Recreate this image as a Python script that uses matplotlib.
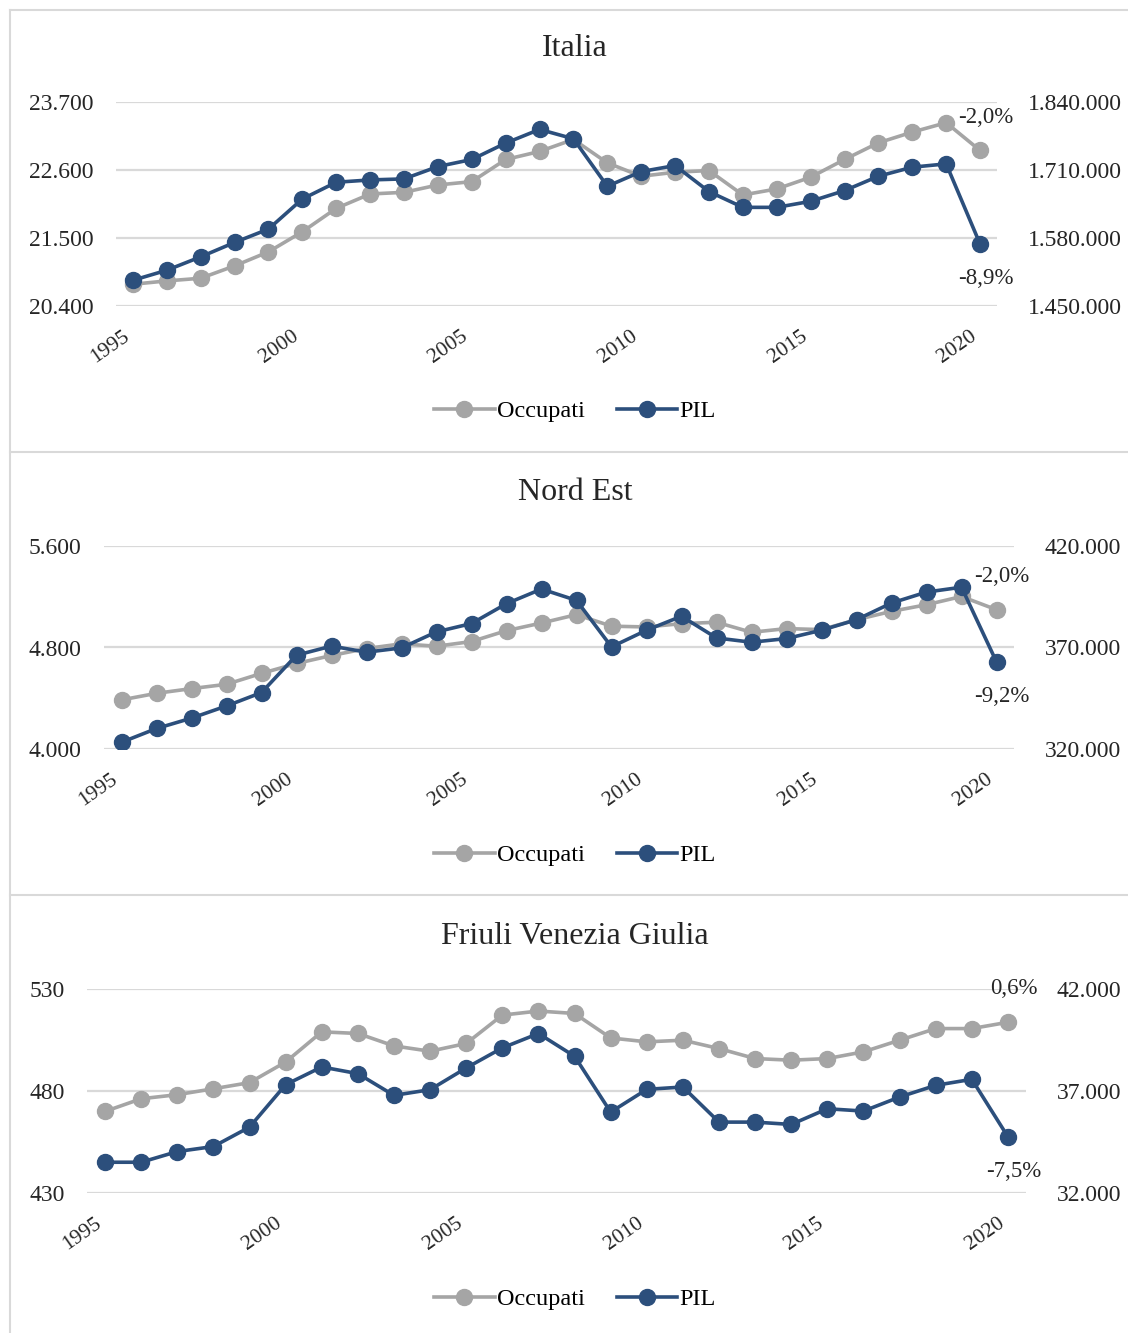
import matplotlib

matplotlib.use("Agg")
import matplotlib.pyplot as plt
from matplotlib.lines import Line2D
from matplotlib.ticker import FixedLocator, FuncFormatter

plt.rcParams["font.family"] = ["Liberation Serif", "DejaVu Serif"]

years = list(range(1995, 2021))

# Italia
italia_occ = [20752, 20806, 20849, 21049, 21276, 21601, 21980, 22212, 22239, 22358,
              22412, 22770, 22900, 23094, 22715, 22499, 22564, 22591, 22196, 22294,
              22483, 22770, 23040, 23213, 23365, 22916]
italia_pil = [1499200, 1518400, 1544000, 1571500, 1597100, 1654600, 1686600, 1691000,
              1693000, 1716600, 1730100, 1761400, 1787600, 1769700, 1678900, 1707000,
              1718500, 1668700, 1638600, 1638600, 1650100, 1670600, 1698100, 1715400,
              1721700, 1568500]

# Nord Est
nordest_occ = [4387, 4439, 4476, 4510, 4596, 4674, 4737, 4792, 4829, 4810,
               4847, 4933, 4993, 5059, 4968, 4962, 4988, 4999, 4920, 4949,
               4941, 5019, 5085, 5137, 5202, 5098]
nordest_pil = [323300, 330100, 335200, 341200, 347800, 366200, 370700, 367700, 369800,
               377700, 381800, 391600, 398800, 393200, 370300, 378500, 385400, 374700,
               372600, 374400, 378500, 383700, 391900, 397300, 399700, 362900]

# Friuli Venezia Giulia
fvg_occ = [470.0, 476.2, 478.2, 481.1, 484.1, 494.2, 509.0, 508.2, 502.1, 499.5,
           503.3, 517.2, 519.2, 518.0, 506.0, 504.1, 504.9, 500.8, 495.9, 495.1,
           495.9, 499.2, 504.9, 510.6, 510.6, 513.7]
fvg_pil = [33508, 33508, 34032, 34278, 35229, 37310, 38179, 37851, 36786, 37065,
           38130, 39113, 39818, 38703, 35966, 37081, 37196, 35475, 35475, 35360,
           36130, 36016, 36704, 37278, 37573, 34755]

panels = [
    ("Italia", italia_occ, italia_pil, [20400, 21500, 22600, 23700],
     [1450000, 1580000, 1710000, 1840000], "-2,0%", "-8,9%"),
    ("Nord Est", nordest_occ, nordest_pil, [4000, 4800, 5600],
     [320000, 370000, 420000], "-2,0%", "-9,2%"),
    ("Friuli Venezia Giulia", fvg_occ, fvg_pil, [430, 480, 530],
     [32000, 37000, 42000], "0,6%", "-7,5%"),
]

GRAY = "#A5A5A5"
BLUE = "#2C4F7C"
GRID = "#D9D9D9"
TXT = "#262626"
W, H = 1128, 1333

# pixel layout: (left, right, top, bottom) of each plot area, title y, legend y
layout = [
    (116, 997, 102, 306, 48, 411),
    (104, 1014, 546, 749, 492, 855),
    (87, 1026, 989, 1193, 936, 1299),
]


def it_fmt(v, _pos=None):
    return f"{v:,.0f}".replace(",", ".")


fig = plt.figure(figsize=(W / 100, H / 100), dpi=100)

# panel borders
for y in [10, 452, 895]:
    fig.add_artist(Line2D([10 / W, 1], [1 - y / H, 1 - y / H], color=GRID, lw=1.5))
fig.add_artist(Line2D([10 / W, 10 / W], [0, 1 - 10 / H], color=GRID, lw=1.5))

for (title, occ, pil, lticks, rticks, lab_occ, lab_pil), (l, r, t, b, ty, ly) in zip(panels, layout):
    ax = fig.add_axes([l / W, 1 - b / H, (r - l) / W, (b - t) / H])
    ax2 = ax.twinx()
    ax.set_xlim(1994.5, 2020.5)
    ax.set_ylim(lticks[0], lticks[-1])
    ax2.set_ylim(rticks[0], rticks[-1])

    ax.yaxis.set_major_locator(FixedLocator(lticks))
    ax2.yaxis.set_major_locator(FixedLocator(rticks))
    ax.yaxis.set_major_formatter(FuncFormatter(it_fmt))
    ax2.yaxis.set_major_formatter(FuncFormatter(it_fmt))
    ax.grid(axis="y", color=GRID, lw=1.6)
    ax.set_axisbelow(True)

    ax.set_xticks(range(1995, 2021, 5))
    ax.set_xticklabels([str(y) for y in range(1995, 2021, 5)], rotation=35,
                       ha="right", va="top", fontsize=15.5, color=TXT)
    ax.tick_params(axis="x", length=0, pad=15)
    ax.tick_params(axis="y", length=0, pad=16, labelsize=17, labelcolor=TXT)
    ax2.tick_params(axis="y", length=0, pad=22, labelsize=17, labelcolor=TXT)

    for a in (ax, ax2):
        for s in a.spines.values():
            s.set_visible(False)

    ax.plot(years, occ, color=GRAY, lw=2.6, marker="o", ms=11.5, zorder=3)
    ax2.plot(years, pil, color=BLUE, lw=2.6, marker="o", ms=11.5, zorder=4)

    ax.annotate(lab_occ, (years[-1], occ[-1]), xytext=(4, 24), textcoords="offset points",
                ha="center", va="center", fontsize=16.5, color=TXT)
    ax2.annotate(lab_pil, (years[-1], pil[-1]), xytext=(4, -25), textcoords="offset points",
                 ha="center", va="center", fontsize=16.5, color=TXT)

    fig.text(575 / W, 1 - ty / H, title, ha="center", va="center", fontsize=23, color=TXT)

    handles = [
        Line2D([], [], color=GRAY, lw=2.6, marker="o", ms=11.5),
        Line2D([], [], color=BLUE, lw=2.6, marker="o", ms=11.5),
    ]
    fig.legend(handles, ["Occupati", "PIL"], loc="center", bbox_to_anchor=(575 / W, 1 - ly / H),
               ncol=2, frameon=False, fontsize=17.5, handlelength=2.5, handletextpad=0.1,
               columnspacing=1.3)

fig.savefig("out.png", dpi=100)
